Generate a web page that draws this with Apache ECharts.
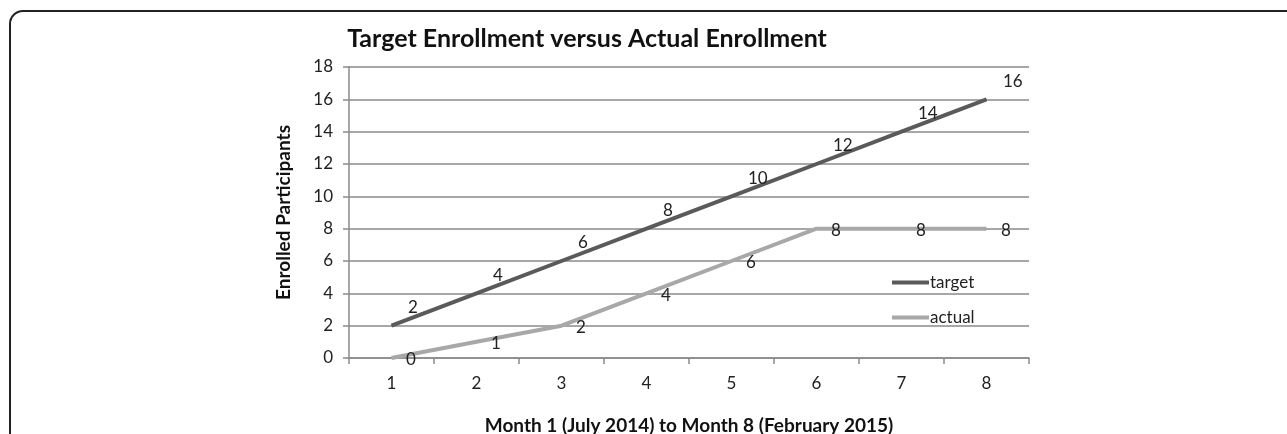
<!DOCTYPE html>
<html>
<head>
<meta charset="utf-8">
<script src="https://cdn.jsdelivr.net/npm/echarts@6/dist/echarts.min.js"></script>
<style>
  html, body { margin: 0; padding: 0; background: #fff; overflow: hidden; }
  #frame { position: absolute; left: 9px; top: 10px; width: 1320px; height: 520px;
           border: 2px solid #222; border-radius: 14px; box-sizing: border-box; }
  #chart { position: absolute; left: 0; top: 0; width: 1287px; height: 434px; }
</style>
</head>
<body>
<div id="frame"></div>
<div id="chart"></div>
<script>
const months = ['1', '2', '3', '4', '5', '6', '7', '8'];
const targetValues = [2, 4, 6, 8, 10, 12, 14, 16];
const actualValues = [0, 1, 2, 4, 6, 8, 8, 8];
const yTicks = [0, 2, 4, 6, 8, 10, 12, 14, 16, 18];
const seriesNames = ['target', 'actual'];
const titleText = 'Target Enrollment versus Actual Enrollment';
const yAxisTitle = 'Enrolled Participants';
const xAxisTitle = 'Month 1 (July 2014) to Month 8 (February 2015)';

const FONT = 'Lato, "Open Sans", sans-serif';
const chart = echarts.init(document.getElementById('chart'), null, { renderer: 'canvas' });

chart.setOption({
  animation: false,
  backgroundColor: 'transparent',
  title: {
    text: titleText,
    left: 582, top: 21, textAlign: 'center',
    textStyle: { fontFamily: FONT, fontWeight: 'bold', fontSize: 25, color: '#111' }
  },
  grid: { left: 349, right: 258, top: 67, bottom: 76, containLabel: false, outerBoundsMode: 'none' },
  legend: {
    orient: 'vertical',
    left: 892, top: 274,
    padding: 0,
    itemGap: 18,
    itemWidth: 37, itemHeight: 4,
    icon: 'rect',
    textStyle: { fontFamily: FONT, fontSize: 17, color: '#222', padding: [0, 0, 0, -4] },
    data: seriesNames
  },
  xAxis: {
    type: 'category',
    data: months,
    boundaryGap: true,
    name: xAxisTitle,
    nameLocation: 'middle',
    nameGap: 58,
    nameTextStyle: { fontFamily: FONT, fontWeight: 'bold', fontSize: 19, color: '#111' },
    axisLine: { lineStyle: { color: '#8a8a8a', width: 1.5 } },
    axisTick: { show: true, length: 6, alignWithLabel: false, lineStyle: { color: '#8a8a8a', width: 1.5 } },
    axisLabel: { margin: 17, fontFamily: FONT, fontSize: 17, color: '#222' }
  },
  yAxis: {
    type: 'value',
    min: yTicks[0], max: yTicks[yTicks.length - 1], interval: yTicks[1] - yTicks[0],
    name: yAxisTitle,
    nameLocation: 'middle',
    nameGap: 56,
    nameTextStyle: { fontFamily: FONT, fontWeight: 'bold', fontSize: 19, color: '#111' },
    axisLine: { show: true, lineStyle: { color: '#8a8a8a', width: 1.5 } },
    axisTick: { show: true, length: 6, lineStyle: { color: '#8a8a8a', width: 1.5 } },
    axisLabel: { margin: 16, fontFamily: FONT, fontSize: 17, color: '#222' },
    splitLine: { show: true, lineStyle: { color: '#8a8a8a', width: 1.5 } }
  },
  series: [
    {
      name: seriesNames[0],
      type: 'line',
      data: targetValues,
      symbol: 'circle',
      symbolSize: 1,
      showSymbol: true,
      lineStyle: { color: '#5a5a5a', width: 4 },
      itemStyle: { color: '#5a5a5a' },
      label: {
        show: true, position: 'right', distance: 16, offset: [0, -18],
        fontFamily: FONT, fontSize: 17, color: '#222'
      }
    },
    {
      name: seriesNames[1],
      type: 'line',
      data: actualValues,
      symbol: 'circle',
      symbolSize: 1,
      showSymbol: true,
      lineStyle: { color: '#a8a8a8', width: 4 },
      itemStyle: { color: '#a8a8a8' },
      label: {
        show: true, position: 'right', distance: 14, offset: [0, 2],
        fontFamily: FONT, fontSize: 17, color: '#222'
      }
    }
  ]
});
</script>
</body>
</html>
